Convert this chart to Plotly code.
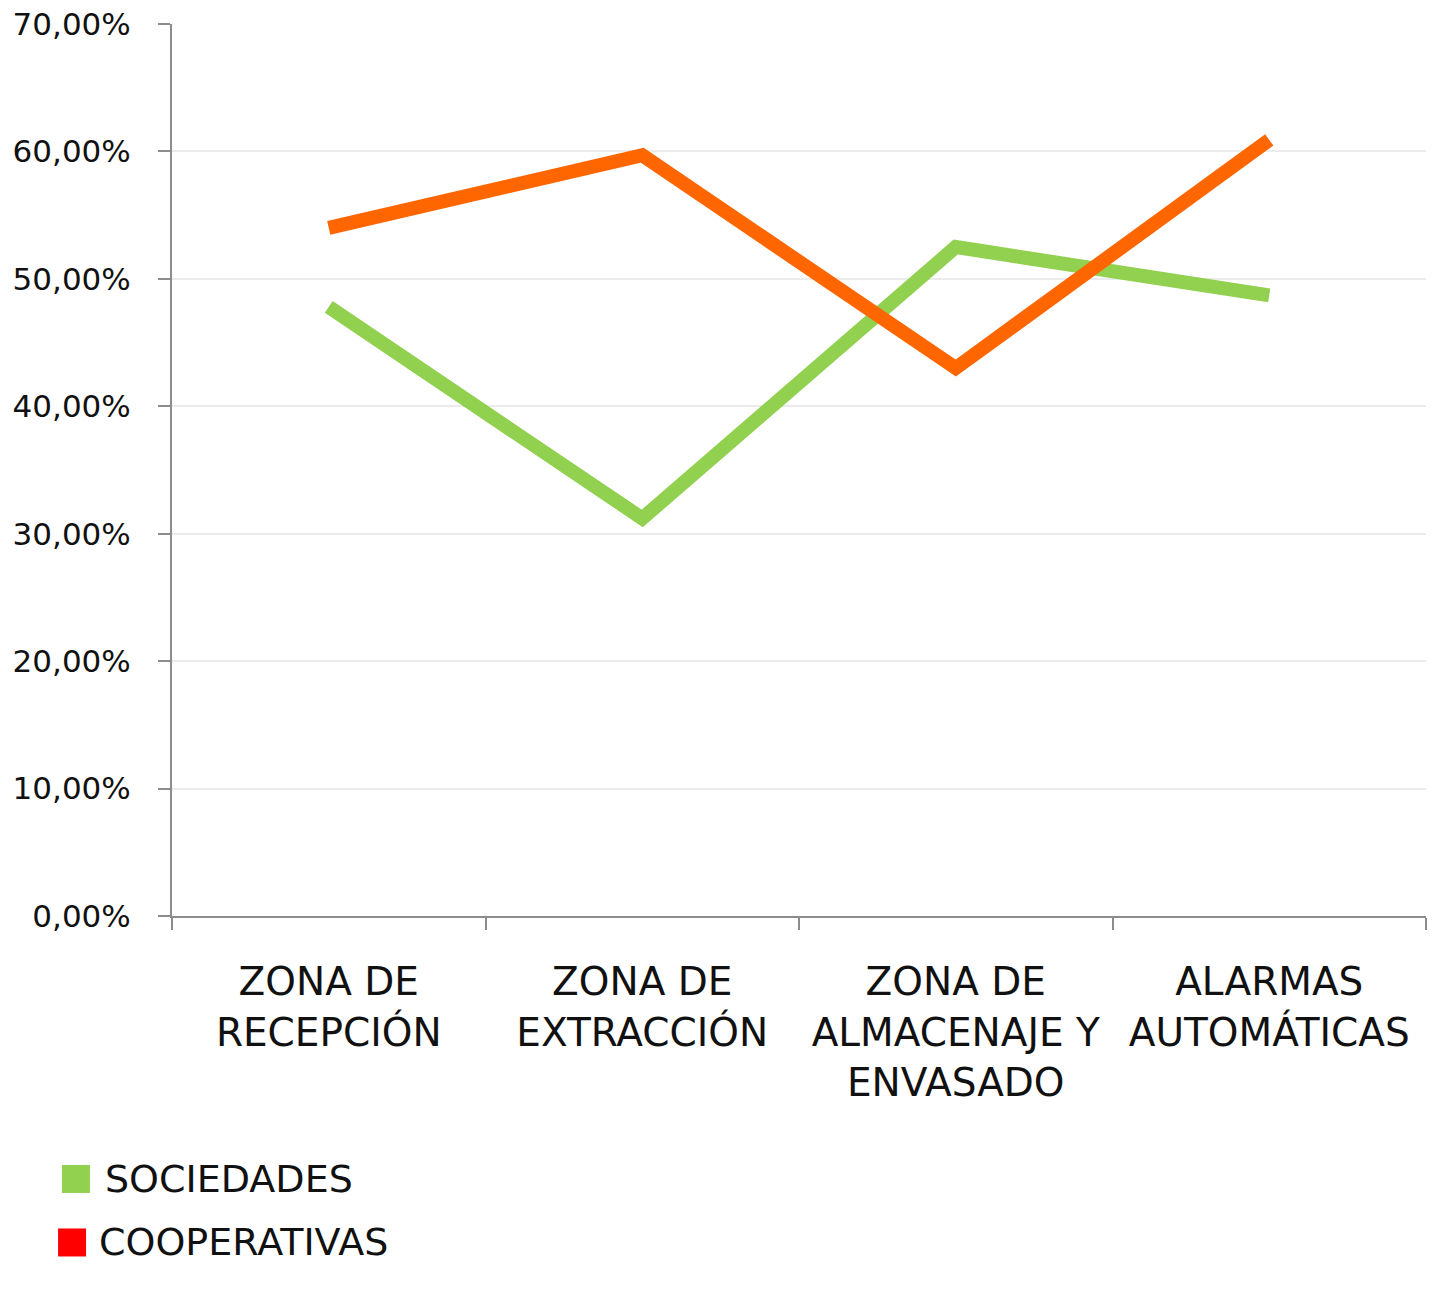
import plotly.graph_objects as go

categories = ["ZONA DE<br>RECEPCIÓN", "ZONA DE<br>EXTRACCIÓN", "ZONA DE<br>ALMACENAJE Y<br>ENVASADO", "ALARMAS<br>AUTOMÁTICAS"]
sociedades = [0.478, 0.312, 0.525, 0.487]
cooperativas = [0.540, 0.597, 0.430, 0.609]
series_names = ["SOCIEDADES", "COOPERATIVAS"]
line_colors = ["#92D050", "#FF6600"]
legend_colors = ["#92D050", "#FF0000"]
y_ticks = [0, 0.1, 0.2, 0.3, 0.4, 0.5, 0.6, 0.7]

FONT = "DejaVu Sans"

fig = go.Figure()
for name, vals, col in zip(series_names, [sociedades, cooperativas], line_colors):
    fig.add_trace(go.Scatter(x=categories, y=vals, mode="lines", name=name,
                             line=dict(color=col, width=14), showlegend=False,
                             cliponaxis=False))

# manual legend (large squares)
leg_y = [-0.2948, -0.366]
sq_x = [-0.0766, -0.0797]
txt_x = [-0.055, -0.0598]
for i, name in enumerate(series_names):
    fig.add_shape(type="rect", xref="paper", yref="paper",
                  xsizemode="pixel", ysizemode="pixel",
                  xanchor=sq_x[i], yanchor=leg_y[i],
                  x0=-14, x1=14, y0=-14, y1=14,
                  fillcolor=legend_colors[i], line=dict(width=0))
    fig.add_annotation(text=name, xref="paper", yref="paper", x=txt_x[i], y=leg_y[i],
                       xanchor="left", yanchor="middle", showarrow=False,
                       font=dict(family=FONT, size=38, color="#111111"))

fig.update_layout(
    width=1444, height=1290,
    margin=dict(l=172, r=18, t=24, b=374, autoexpand=False),
    paper_bgcolor="white", plot_bgcolor="white",
    separators=",.",
    showlegend=False,
    font=dict(family=FONT, color="#111111"),
)
fig.update_xaxes(
    type="category", range=[-0.5, 3.5], tickson="boundaries", ticks="outside", ticklen=12,
    tickcolor="#8c8c8c", tickwidth=2, automargin=False,
    showline=True, linecolor="#8c8c8c", linewidth=2,
    showgrid=False, tickfont=dict(family=FONT, size=39, color="#111111"),
    ticklabelstandoff=30,
)
fig.update_yaxes(
    range=[0, 0.7], tickvals=y_ticks, tickformat=".2%", automargin=False,
    ticklabeloverflow="allow",
    ticks="outside", ticklen=12, tickcolor="#8c8c8c", tickwidth=2,
    showline=True, linecolor="#8c8c8c", linewidth=2,
    showgrid=True, gridcolor="#EBEBEB", gridwidth=2, zeroline=False,
    tickfont=dict(family=FONT, size=31, color="#111111"),
    ticklabelstandoff=21,
)
fig.write_html("out.html", config={"displayModeBar": False},
               post_script="document.body.style.margin='0';")
